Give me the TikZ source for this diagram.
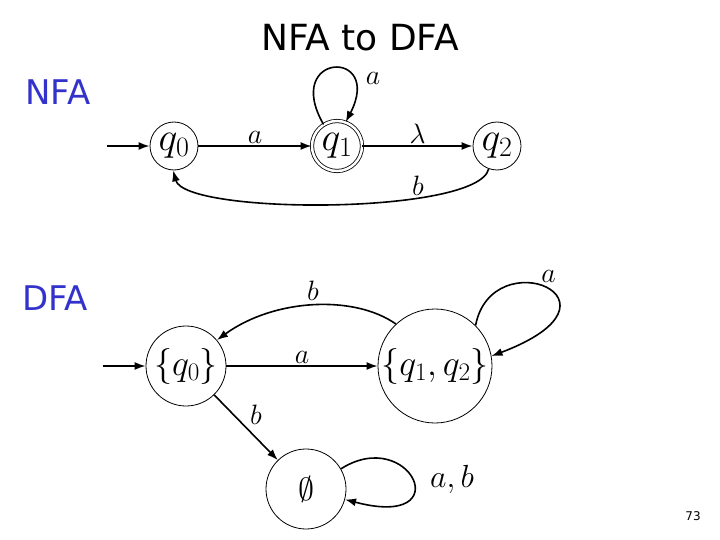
\RequirePackage{fix-cm}
\documentclass[tikz,border=0pt]{standalone}
\usepackage{fontspec}
\setsansfont{DejaVu Sans}
\usetikzlibrary{arrows.meta}

\definecolor{labelBlue}{HTML}{3333CC}

\tikzset{
    state/.style={draw, circle, line width=0.8pt, inner sep=0pt,
        font=\fontsize{40}{44}\selectfont},
    trans/.style={line width=1.6pt, -{Latex[length=11pt,width=8pt]}},
    edgelabel/.style={font=\fontsize{28}{32}\selectfont, inner sep=2pt},
}

\begin{document}
\begin{tikzpicture}[x=1pt, y=-1pt]
    \useasboundingbox (0,0) rectangle (720,540);

    % Titulo e rotulos.
    \node[font=\sffamily\fontsize{36}{40}\selectfont] (title) at (360,38) {NFA to DFA};
    \node[labelBlue, font=\sffamily\fontsize{34}{38}\selectfont] (nfa) at (58,92) {NFA};
    \node[labelBlue, font=\sffamily\fontsize{34}{38}\selectfont] (dfa) at (55,298) {DFA};
    \node[font=\sffamily\fontsize{12}{14}\selectfont] (page) at (693,516) {73};

    % Automato NFA.
    \node[state, minimum size=48pt] (q0) at (174,146) {$q_0$};
    \node[state, double, double distance=2.5pt, minimum size=50pt] (q1) at (337,146) {$q_1$};
    \node[state, minimum size=48pt] (q2) at (497,146) {$q_2$};
    \coordinate (start1) at (107,146);

    \draw[trans] (start1) -- (q0);
    \draw[trans] (q0) -- node[edgelabel, above] {$a$} (q1);
    \draw[trans] (q1) -- node[edgelabel, above] {$\lambda$} (q2);
    \draw[trans] (q1.122) .. controls (282,52) and (384,48) .. (q1.70)
        node[edgelabel, pos=0.72, right=12pt] {$a$};
    \draw[trans] (q2.250) .. controls (478,215) and (185,215) .. (q0.268)
        node[edgelabel, pos=0.3, above] {$b$};

    % Automato DFA.
    \node[state, minimum size=80pt, font=\fontsize{36}{40}\selectfont] (d0) at (186,366) {$\{q_0\}$};
    \node[state, minimum size=114pt, font=\fontsize{36}{40}\selectfont] (d12) at (435,366) {$\{q_1,q_2\}$};
    \node[state, minimum size=80pt, font=\fontsize{32}{36}\selectfont] (dnull) at (306,489) {$\emptyset$};
    \coordinate (start2) at (103,366);

    \draw[trans] (start2) -- (d0);
    \draw[trans] (d0) -- node[edgelabel, above] {$a$} (d12);
    \draw[trans] (d12.133) .. controls (355,295) and (275,298) .. (d0.40)
        node[edgelabel, midway, above=2pt] {$b$};
    \draw[trans] (d12.45) .. controls (492,240) and (640,300) .. (d12.10)
        node[edgelabel, pos=0.45, above right] {$a$};
    \draw[trans] (d0) -- node[edgelabel, pos=0.3, right=14pt] {$b$} (dnull);
    \draw[trans] (dnull.30) .. controls (410,425) and (460,530) .. (dnull.-15)
        node[font=\fontsize{32}{36}\selectfont, pos=0.5, right=14pt] {$a,b$};
\end{tikzpicture}
\end{document}
